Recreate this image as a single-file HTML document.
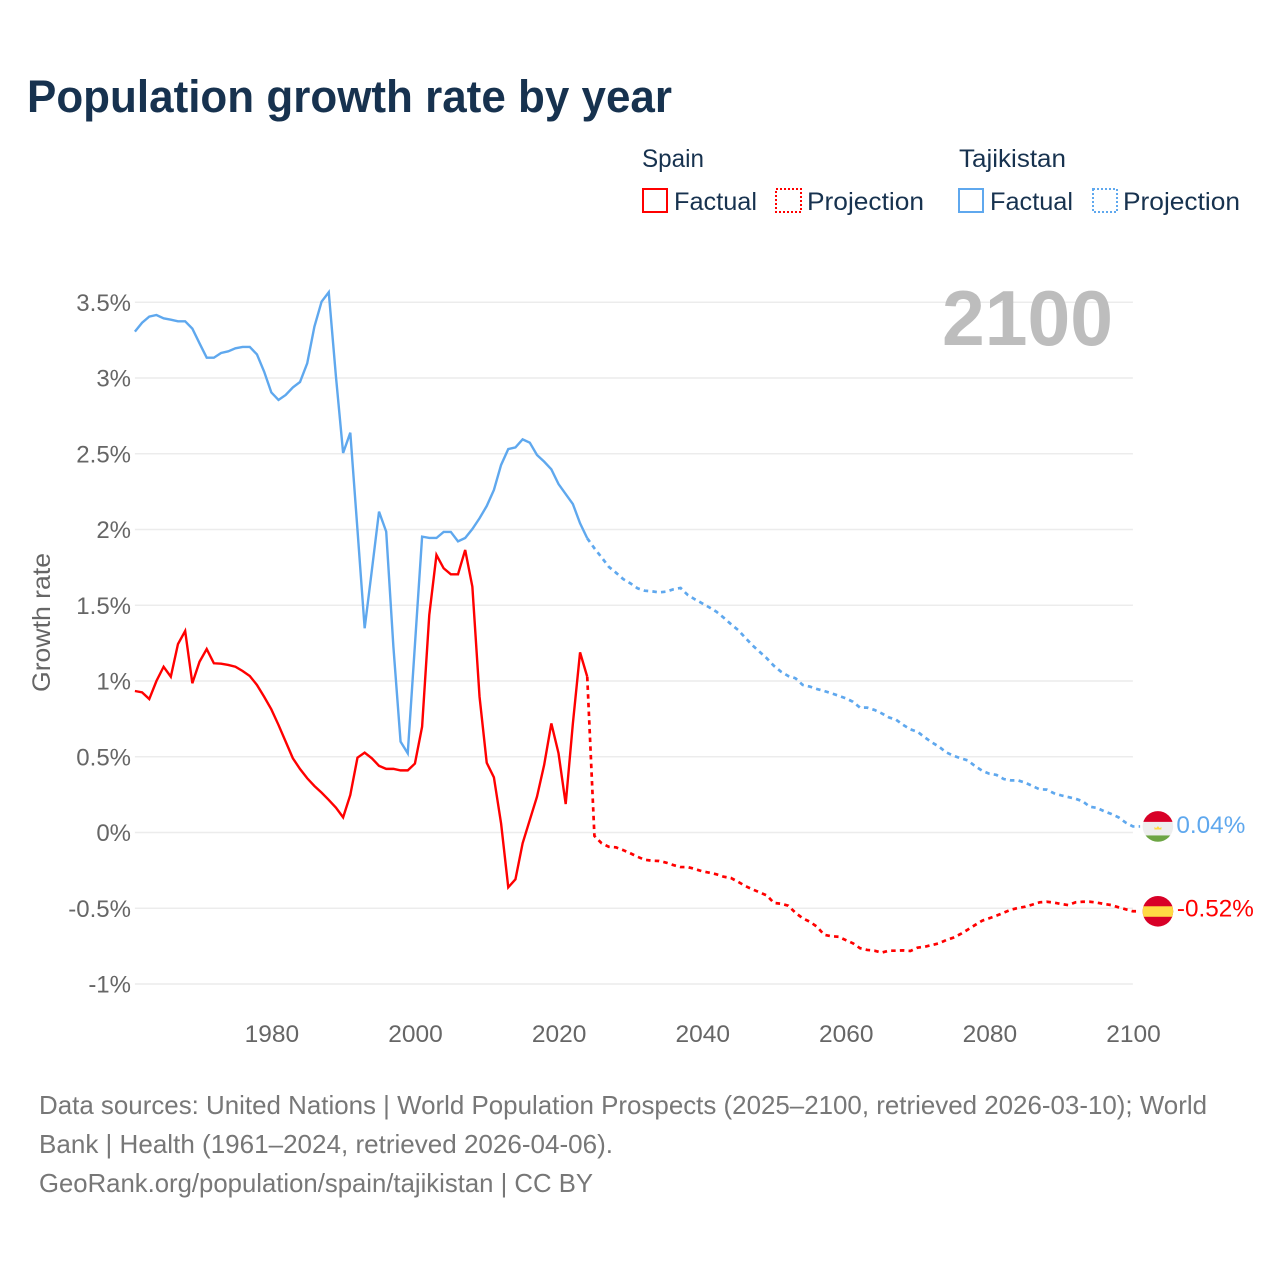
<!DOCTYPE html>
<html lang="en">
<head>
<meta charset="utf-8">
<title>Population growth rate by year</title>
<style>
html,body{margin:0;padding:0;background:#fff}
svg{display:block}
text{font-family:"Liberation Sans",sans-serif}
</style>
</head>
<body>
<svg id="chart" width="1280" height="1280" viewBox="0 0 1280 1280" xmlns="http://www.w3.org/2000/svg">
  <rect width="1280" height="1280" fill="#fff"/>
  <text x="27" y="112" font-size="45" font-weight="700" fill="#17324f" textLength="645" lengthAdjust="spacingAndGlyphs">Population growth rate by year</text>

  <g fill="#17324f" font-size="25">
    <text x="642" y="167" textLength="62" lengthAdjust="spacingAndGlyphs">Spain</text>
    <rect x="643" y="189" width="24" height="23" fill="none" stroke="#ff0000" stroke-width="2"/>
    <text x="674" y="210" textLength="83" lengthAdjust="spacingAndGlyphs">Factual</text>
    <rect x="776" y="189" width="25" height="23" fill="none" stroke="#ff0000" stroke-width="2" stroke-dasharray="2 2"/>
    <text x="807" y="210" textLength="117" lengthAdjust="spacingAndGlyphs">Projection</text>
    <text x="959" y="167" textLength="107" lengthAdjust="spacingAndGlyphs">Tajikistan</text>
    <rect x="959" y="189" width="24" height="23" fill="none" stroke="#5fa8ee" stroke-width="2"/>
    <text x="990" y="210" textLength="83" lengthAdjust="spacingAndGlyphs">Factual</text>
    <rect x="1093" y="189" width="24" height="23" fill="none" stroke="#5fa8ee" stroke-width="2" stroke-dasharray="2 2"/>
    <text x="1123" y="210" textLength="117" lengthAdjust="spacingAndGlyphs">Projection</text>
  </g>

  <g id="grid"></g>
  <g id="yticks" fill="#666" font-size="24" text-anchor="end"></g>
  <g id="xticks" fill="#666" font-size="24.5" text-anchor="middle"></g>
  <text transform="translate(50,622.5) rotate(-90)" font-size="25" fill="#666" text-anchor="middle" textLength="139" lengthAdjust="spacingAndGlyphs">Growth rate</text>
  <text x="1113" y="345" font-size="78" font-weight="700" fill="#bdbdbd" text-anchor="end" textLength="171" lengthAdjust="spacingAndGlyphs">2100</text>

  <g id="series"></g>
  <g id="endmarks"></g>

  <g fill="#777" font-size="26">
    <text x="39" y="1114" textLength="1168" lengthAdjust="spacingAndGlyphs">Data sources: United Nations | World Population Prospects (2025–2100, retrieved 2026-03-10); World</text>
    <text x="39" y="1153" textLength="574" lengthAdjust="spacingAndGlyphs">Bank | Health (1961–2024, retrieved 2026-04-06).</text>
    <text x="39" y="1192" textLength="554" lengthAdjust="spacingAndGlyphs">GeoRank.org/population/spain/tajikistan | CC BY</text>
  </g>
</svg>

<script>
// Data arrays
const factualStartYear = 1961;
const projectionStartYear = 2024;
const yTickValues = [3.5, 3, 2.5, 2, 1.5, 1, 0.5, 0, -0.5, -1];
const yTickLabels = ["3.5%", "3%", "2.5%", "2%", "1.5%", "1%", "0.5%", "0%", "-0.5%", "-1%"];
const xTickYears = [1980, 2000, 2020, 2040, 2060, 2080, 2100];

const spainFactual = [
  0.934,0.925,0.881,1.0,1.094,1.028,1.244,1.33,0.985,1.127,
  1.211,1.117,1.114,1.106,1.094,1.066,1.033,0.974,0.896,0.813,
  0.71,0.6,0.49,0.419,0.358,0.307,0.263,0.215,0.164,0.1,
  0.248,0.494,0.527,0.49,0.44,0.42,0.42,0.41,0.41,0.455,
  0.698,1.436,1.832,1.744,1.704,1.704,1.865,1.623,0.896,0.46,
  0.364,0.06,-0.362,-0.309,-0.071,0.083,0.236,0.446,0.72,0.523,
  0.188,0.72,1.189,1.028
];
const spainProjection = [
  1.028,-0.023,-0.071,-0.094,-0.098,-0.116,-0.137,-0.16,-0.18,-0.186,-0.188,
  -0.199,-0.215,-0.228,-0.228,-0.241,-0.256,-0.265,-0.276,-0.292,-0.3,
  -0.325,-0.353,-0.375,-0.395,-0.415,-0.465,-0.47,-0.483,-0.53,-0.566,
  -0.589,-0.622,-0.675,-0.685,-0.688,-0.71,-0.731,-0.764,-0.775,-0.78,
  -0.793,-0.78,-0.78,-0.778,-0.782,-0.76,-0.754,-0.743,-0.731,-0.71,
  -0.694,-0.67,-0.641,-0.611,-0.582,-0.566,-0.549,-0.529,-0.51,-0.498,
  -0.49,-0.476,-0.461,-0.457,-0.463,-0.472,-0.479,-0.461,-0.457,-0.457,
  -0.463,-0.472,-0.479,-0.494,-0.507,-0.52
];
const tajikistanFactual = [
  3.306,3.365,3.405,3.416,3.394,3.385,3.374,3.374,3.326,3.229,
  3.134,3.134,3.165,3.176,3.196,3.205,3.205,3.156,3.042,2.905,
  2.855,2.888,2.938,2.974,3.097,3.339,3.504,3.566,3.01,2.505,
  2.639,1.997,1.348,1.73,2.118,1.986,1.227,0.6,0.523,1.238,
  1.953,1.944,1.944,1.984,1.984,1.922,1.944,2.003,2.074,2.155,
  2.261,2.426,2.531,2.542,2.595,2.573,2.492,2.448,2.397,2.3,
  2.234,2.168,2.041,1.942
];
const tajikistanProjection = [
  1.942,1.876,1.816,1.754,1.715,1.673,1.645,1.612,1.596,1.592,1.585,
  1.59,1.605,1.614,1.568,1.539,1.513,1.486,1.457,1.418,1.376,
  1.337,1.286,1.236,1.193,1.15,1.1,1.061,1.033,1.018,0.974,
  0.963,0.947,0.934,0.919,0.903,0.886,0.863,0.824,0.824,0.809,
  0.787,0.76,0.745,0.71,0.681,0.665,0.628,0.595,0.566,0.529,
  0.507,0.49,0.476,0.439,0.408,0.388,0.38,0.353,0.344,0.344,
  0.329,0.307,0.285,0.283,0.259,0.245,0.234,0.223,0.206,0.17,
  0.162,0.14,0.122,0.1,0.065,0.04
];

// Axis functions
function xScale(year) { return 134.9 + (year - 1961) * 7.18; }
function yScale(value) { return 832.5 - value * 151.5; }

const SVGNS = "http://www.w3.org/2000/svg";
function make(tag, parent) {
  const el = document.createElementNS(SVGNS, tag);
  parent.appendChild(el);
  return el;
}

// Gridlines and y tick labels
const gridGroup = document.getElementById("grid");
const yTickGroup = document.getElementById("yticks");
yTickValues.forEach(function (value, i) {
  const line = make("line", gridGroup);
  
  
  line.setAttribute("x1", xScale(1961));
  line.setAttribute("x2", xScale(2100));
  line.setAttribute("y1", yScale(value));
  line.setAttribute("y2", yScale(value));
  line.setAttribute("stroke", "#ececec");
  line.setAttribute("stroke-width", "1.6");

  const label = make("text", yTickGroup);
  
  
  label.setAttribute("x", 131);
  label.setAttribute("y", yScale(value) + 8.5);
  label.textContent = yTickLabels[i];
});

// X tick labels
const xTickGroup = document.getElementById("xticks");
xTickYears.forEach(function (year) {
  const label = make("text", xTickGroup);
  
  
  label.setAttribute("x", xScale(year) + 0.6);
  label.setAttribute("y", 1042);
  label.textContent = String(year);
});

// Series lines
function pointsFrom(values, startYear, extendToEnd) {
  const pts = values.map(function (v, i) {
    return xScale(startYear + i).toFixed(2) + "," + yScale(v).toFixed(2);
  });
  if (extendToEnd) {
    pts.push(xScale(startYear + values.length).toFixed(2) + "," + yScale(values[values.length - 1]).toFixed(2));
  }
  return pts.join(" ");
}

const seriesGroup = document.getElementById("series");

const tajFactualLine = make("polyline", seriesGroup);


tajFactualLine.setAttribute("points", pointsFrom(tajikistanFactual, factualStartYear, false));
tajFactualLine.setAttribute("fill", "none");
tajFactualLine.setAttribute("stroke", "#5fa8ee");
tajFactualLine.setAttribute("stroke-width", "2.4");

const tajProjectionLine = make("polyline", seriesGroup);


tajProjectionLine.setAttribute("points", pointsFrom(tajikistanProjection, projectionStartYear, true));
tajProjectionLine.setAttribute("fill", "none");
tajProjectionLine.setAttribute("stroke", "#5fa8ee");
tajProjectionLine.setAttribute("stroke-width", "2.7");
tajProjectionLine.setAttribute("stroke-dasharray", "4.5 4.2");

const spainFactualLine = make("polyline", seriesGroup);


spainFactualLine.setAttribute("points", pointsFrom(spainFactual, factualStartYear, false));
spainFactualLine.setAttribute("fill", "none");
spainFactualLine.setAttribute("stroke", "#ff0000");
spainFactualLine.setAttribute("stroke-width", "2.4");

const spainProjectionLine = make("polyline", seriesGroup);


spainProjectionLine.setAttribute("points", pointsFrom(spainProjection, projectionStartYear, true));
spainProjectionLine.setAttribute("fill", "none");
spainProjectionLine.setAttribute("stroke", "#ff0000");
spainProjectionLine.setAttribute("stroke-width", "2.7");
spainProjectionLine.setAttribute("stroke-dasharray", "4.5 4.2");

// End markers
const endGroup = document.getElementById("endmarks");
const defs = make("defs", endGroup);
const lastYear = 2100;
const flagCx = xScale(lastYear) + 25;

function addFlag(flagName, cy, bands) {
  const clip = make("clipPath", defs);
  clip.setAttribute("id", "clip-" + flagName);
  const clipCircle = make("circle", clip);
  clipCircle.setAttribute("cx", flagCx);
  clipCircle.setAttribute("cy", cy);
  clipCircle.setAttribute("r", 15.3);
  const g = make("g", endGroup);
  
  
  g.setAttribute("clip-path", "url(#clip-" + flagName + ")");
  bands.forEach(function (band) {
    const r = make("rect", g);
    r.setAttribute("x", flagCx - 16);
    r.setAttribute("y", cy - 16 + band[0]);
    r.setAttribute("width", 32);
    r.setAttribute("height", band[1]);
    r.setAttribute("fill", band[2]);
  });
  return g;
}

const tajLastValue = tajikistanProjection[tajikistanProjection.length - 1];
const spainLastValue = spainProjection[spainProjection.length - 1];

const tajFlag = addFlag("tajikistan", yScale(tajLastValue), [[0, 11.5, "#d80027"], [11.5, 13.5, "#eeeeee"], [25, 7, "#6da544"]]);
const tajEmblem = make("path", tajFlag);


tajEmblem.setAttribute("d", "M" + (flagCx - 3.5) + " " + (yScale(tajLastValue) + 3) + "h7v-2.5l-1.7 1.2-1.8-2-1.8 2-1.7-1.2z");
tajEmblem.setAttribute("fill", "#ffda44");

addFlag("spain", yScale(spainLastValue), [[0, 32, "#d80027"], [11, 10.5, "#ffda44"]]);

const tajEndLabel = make("text", endGroup);


tajEndLabel.setAttribute("x", flagCx + 18.5);
tajEndLabel.setAttribute("y", yScale(tajLastValue) + 6.5);
tajEndLabel.setAttribute("font-size", "24.3");
tajEndLabel.setAttribute("fill", "#5fa8ee");
tajEndLabel.textContent = tajLastValue.toFixed(2) + "%";

const spainEndLabel = make("text", endGroup);


spainEndLabel.setAttribute("x", flagCx + 19);
spainEndLabel.setAttribute("y", yScale(spainLastValue) + 5);
spainEndLabel.setAttribute("font-size", "24.3");
spainEndLabel.setAttribute("fill", "#ff0000");
spainEndLabel.textContent = spainLastValue.toFixed(2) + "%";
</script>
</body>
</html>
